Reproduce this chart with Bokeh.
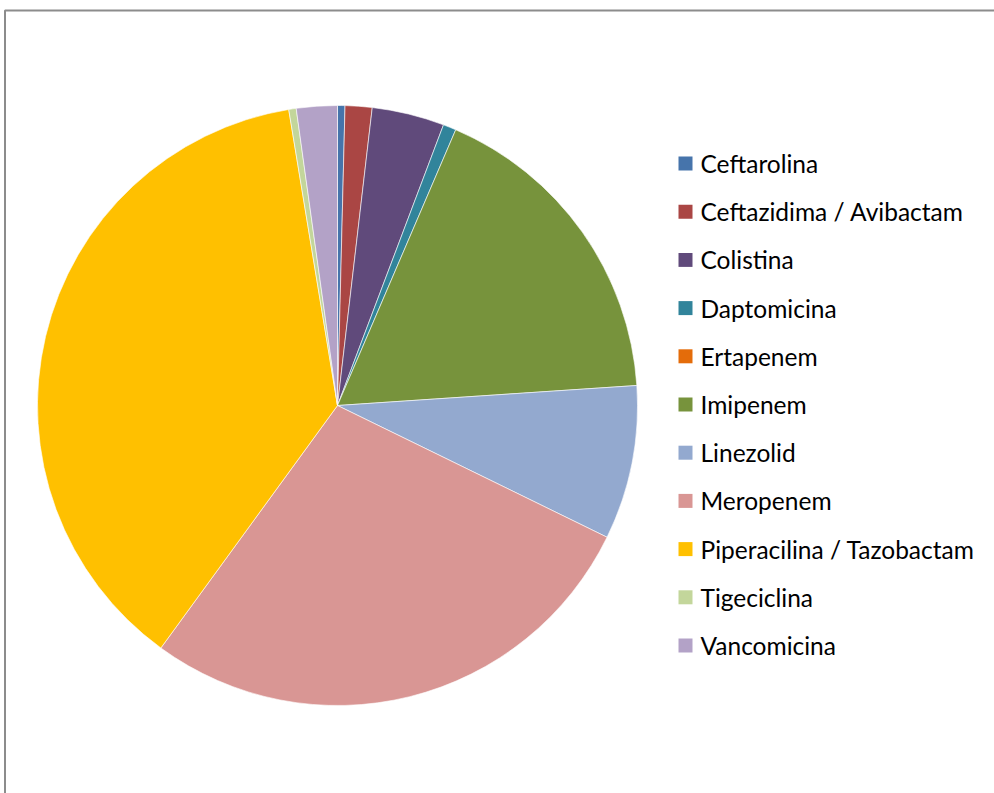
import numpy as np
from bokeh.plotting import figure
from bokeh.models import Range1d, ColumnDataSource
from bokeh.core.properties import value
from bokeh.embed import file_html
from bokeh.resources import INLINE

labels = ["Ceftarolina", "Ceftazidima / Avibactam", "Colistina", "Daptomicina",
          "Ertapenem", "Imipenem", "Linezolid", "Meropenem",
          "Piperacilina / Tazobactam", "Tigeciclina", "Vancomicina"]
shares = [0.4, 1.45, 3.9, 0.7, 0.0, 17.5, 8.3, 27.8, 37.4, 0.4, 2.2]
colors = ["#4674AB", "#AA4644", "#604A7B", "#31849B", "#E46C0A", "#77933C",
          "#93A9CF", "#D99694", "#FFC000", "#C3D69B", "#B3A2C7"]

W, H = 994, 793
p = figure(width=W, height=H, x_range=Range1d(0, W), y_range=Range1d(0, H),
           output_backend="svg", toolbar_location=None, min_border=0)
p.axis.visible = False
p.grid.visible = False
p.outline_line_color = None
p.background_fill_color = "white"
p.border_fill_color = "white"

# frame of chart area (clipped at right/bottom)
p.quad(left=[4.5], right=[W + 50], top=[H - 10], bottom=[-50],
       fill_color=None, line_color="#8C8C8C", line_width=2)

vals = np.array(shares, dtype=float)
frac = vals / vals.sum()
cum = np.concatenate([[0], np.cumsum(frac)])
start = np.pi / 2 - 2 * np.pi * cum[:-1]
end = np.pi / 2 - 2 * np.pi * cum[1:]
keep = frac > 0

cx, cy, r = 337, H - 405, 300
src = ColumnDataSource(dict(start=start[keep], end=end[keep],
                            color=np.array(colors)[keep].tolist()))
p.wedge(x=cx, y=cy, radius=r, start_angle="start", end_angle="end",
        direction="clock", fill_color="color", line_color="white",
        line_width=0.6, source=src)

# legend
n = len(labels)
ly = [H - (163 + i * 48.2) for i in range(n)]
p.rect(x=[685] * n, y=ly, width=14, height=14, fill_color=colors,
       line_color=None)
p.text(x=[700] * n, y=ly, text=labels, text_font=value("Lato"),
       text_font_size="24.5px", text_baseline="middle", text_align="left",
       text_color="black")

open("out.html", "w").write(file_html(p, INLINE))
